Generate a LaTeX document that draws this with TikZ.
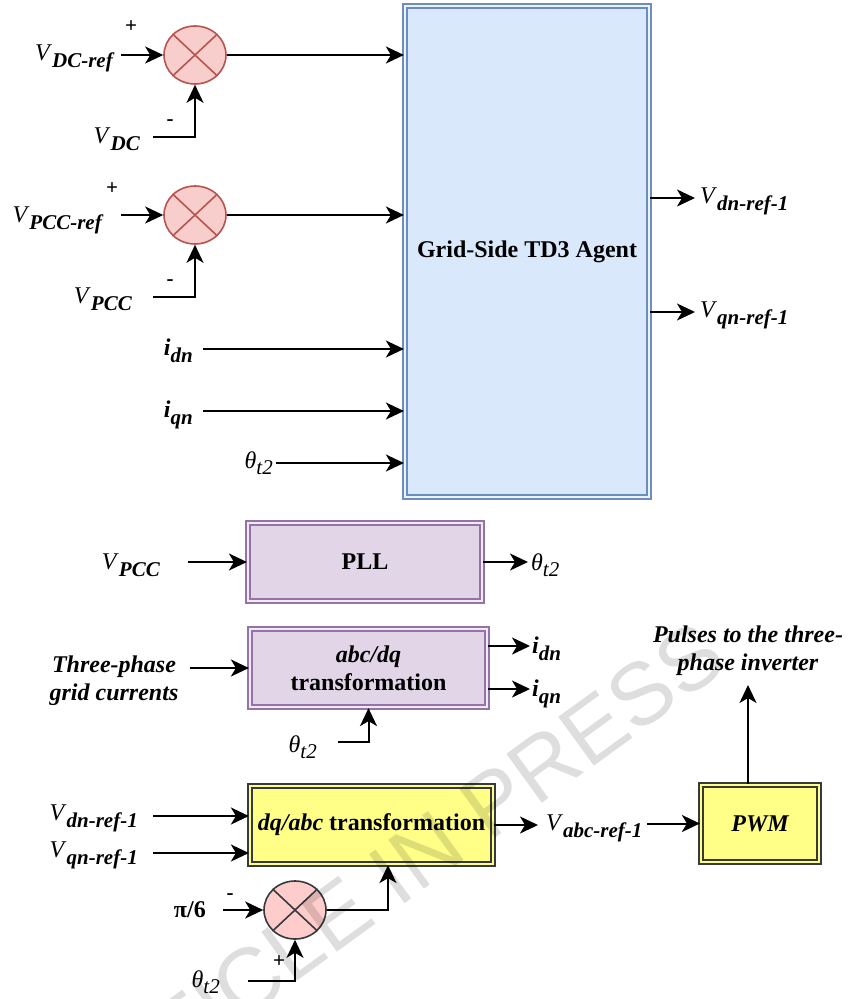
\documentclass[tikz,border=0pt]{standalone}
\usepackage{fontspec}
\setmainfont{Liberation Serif}
\newfontfamily\wmfont{Liberation Sans}
\usetikzlibrary{arrows.meta,shapes.geometric}

\definecolor{bluefill}{HTML}{DAE8FC}
\definecolor{bluedraw}{HTML}{6C8EBF}
\definecolor{purpfill}{HTML}{E1D5E7}
\definecolor{purpdraw}{HTML}{9673A6}
\definecolor{yelfill}{HTML}{FFFF88}
\definecolor{darkdraw}{HTML}{36393D}
\definecolor{redfill}{HTML}{F8CECC}
\definecolor{reddraw}{HTML}{B85450}
\definecolor{pinkfill}{HTML}{FFCCCC}

\newcommand{\sv}[2]{\textit{#1}\raisebox{-7pt}{\fontsize{21}{21}\selectfont\bfseries\itshape #2}}
\newcommand{\sth}{\textit{θ}\raisebox{-6pt}{\fontsize{21}{21}\selectfont\itshape t2}}
\newcommand{\si}[1]{\textbf{\textit{i}}\raisebox{-7pt}{\fontsize{21}{21}\selectfont\bfseries\itshape #1}}

\begin{document}
\begin{tikzpicture}[x=1pt,y=-1pt,
  font=\fontsize{24}{28}\selectfont,
  conn/.style={line width=2pt,-{Stealth[length=18pt,width=17pt,inset=5pt]}},
  lab/.style={inner sep=0pt},
  sign/.style={inner sep=0pt,font=\fontsize{21}{21}\selectfont\bfseries},
  sumred/.style={ellipse,minimum width=62pt,minimum height=58pt,inner sep=0pt,
    line width=1.6pt,draw=reddraw,fill=redfill},
  sumdark/.style={ellipse,minimum width=62pt,minimum height=58pt,inner sep=0pt,
    line width=1.6pt,draw=darkdraw,fill=pinkfill},
  blk/.style={rectangle,inner sep=0pt,line width=1.8pt,double distance=2pt,align=center,
    font=\fontsize{24}{28}\selectfont\bfseries},
  blueblk/.style={blk,draw=bluedraw,double=bluefill!50!white,fill=bluefill},
  purpblk/.style={blk,draw=purpdraw,double=purpfill!50!white,fill=purpfill},
  yelblk/.style={blk,draw=darkdraw,double=yelfill,fill=yelfill},
]
\useasboundingbox (0,0) rectangle (849,999);

% ---------- Grid-side agent ----------
\node[blueblk,minimum width=244.4pt,minimum height=491.4pt] (agent) at (527,251.5) {Grid-Side TD3 Agent};

% summing junctions
\node[sumred] (c1) at (195,55) {};
\node[sumred] (c2) at (195,215) {};
\foreach \c in {c1,c2}{
  \draw[reddraw,line width=1.6pt] (\c.north east) -- (\c.south west) (\c.north west) -- (\c.south east);
}

% inputs to c1
\node[lab,anchor=base east] (lvdcref) at (113,60) {\sv{V}{DC-ref}};
\node[sign] (p1) at (131,27) {+};
\coordinate (s1) at (121,55);
\draw[conn] (s1) -- (c1.west);
\node[lab,anchor=base east] (lvdc) at (140,143) {\sv{V}{DC}};
\node[sign] (m1) at (170,123) {-};
\coordinate (s1b) at (153,137);
\draw[conn] (s1b) -| (c1.south);
\draw[conn] (c1.east) -- (c1.east -| agent.west);

% inputs to c2
\node[lab,anchor=base east] (lvpccref) at (102,222) {\sv{V}{PCC-ref}};
\node[sign] (p2) at (112,189) {+};
\coordinate (s2) at (121,215);
\draw[conn] (s2) -- (c2.west);
\node[lab,anchor=base east] (lvpcc) at (132,303) {\sv{V}{PCC}};
\node[sign] (m2) at (170,283) {-};
\coordinate (s2b) at (153,297);
\draw[conn] (s2b) -| (c2.south);
\draw[conn] (c2.east) -- (c2.east -| agent.west);

% other inputs
\node[lab,anchor=base east] (lidn) at (193,355) {\si{dn}};
\coordinate (s3) at (203,349);
\draw[conn] (s3) -- (s3 -| agent.west);
\node[lab,anchor=base east] (liqn) at (193,417) {\si{qn}};
\coordinate (s4) at (203,411);
\draw[conn] (s4) -- (s4 -| agent.west);
\node[lab,anchor=base east] (lth1) at (273,468) {\sth};
\coordinate (s5) at (276,463);
\draw[conn] (s5) -- (s5 -| agent.west);

% outputs
\coordinate (o1) at (695,198);
\draw[conn] (agent.east |- o1) -- (o1);
\node[lab,anchor=base west] (lvdo) at (700,203) {\sv{V}{dn-ref-1}};
\coordinate (o2) at (695,312);
\draw[conn] (agent.east |- o2) -- (o2);
\node[lab,anchor=base west] (lvqo) at (700,317) {\sv{V}{qn-ref-1}};

% ---------- PLL ----------
\node[purpblk,minimum width=234.4pt,minimum height=78.4pt] (pll) at (365,562) {PLL};
\node[lab,anchor=base east] (lvpcc2) at (160,569) {\sv{V}{PCC}};
\coordinate (sp) at (188,562);
\draw[conn] (sp) -- (pll.west);
\coordinate (op) at (528,562);
\draw[conn] (pll.east) -- (op);
\node[lab,anchor=base west] (lth2) at (531,570) {\sth};

% ---------- abc/dq ----------
\node[purpblk,minimum width=237.4pt,minimum height=78.4pt] (abc) at (368.5,668) {\textit{abc/dq}\\transformation};
\node[lab,anchor=base,align=center,font=\fontsize{24}{28}\selectfont\bfseries\itshape] (l3ph) at (114,700) {Three-phase\\grid currents};
\coordinate (sa) at (190,668);
\draw[conn] (sa) -- (abc.west);
\coordinate (oa1) at (530,646);
\draw[conn] (abc.east |- oa1) -- (oa1);
\node[lab,anchor=base west] (lidn2) at (532,653) {\si{dn}};
\coordinate (oa2) at (530,689);
\draw[conn] (abc.east |- oa2) -- (oa2);
\node[lab,anchor=base west] (liqn2) at (532,696) {\si{qn}};
\coordinate (st) at (338,742);
\draw[conn] (st) -| (abc.south);
\node[lab,anchor=base east] (lth3) at (317,752) {\sth};

% ---------- dq/abc ----------
\node[yelblk,minimum width=243.4pt,minimum height=78.4pt] (dq) at (371.5,825) {\textit{dq/abc} transformation};
\node[lab,anchor=base east] (lvd2) at (138,820) {\sv{V}{dn-ref-1}};
\coordinate (sd1) at (153,816);
\draw[conn] (sd1) -- (sd1 -| dq.west);
\node[lab,anchor=base east] (lvq2) at (138,857) {\sv{V}{qn-ref-1}};
\coordinate (sd2) at (153,853);
\draw[conn] (sd2) -- (sd2 -| dq.west);

\node[sumdark] (c3) at (295,910) {};
\draw[darkdraw,line width=1.6pt] (c3.north east) -- (c3.south west) (c3.north west) -- (c3.south east);
\node[lab,anchor=base east,font=\fontsize{24}{28}\selectfont\bfseries] (lpi) at (206,917) {π/6};
\node[sign] (m3) at (230,897) {-};
\coordinate (spi) at (223,910);
\draw[conn] (spi) -- (c3.west);
\node[lab,anchor=base east] (lth4) at (220,987) {\sth};
\node[sign] (p3) at (279,962) {+};
\coordinate (sth3) at (248,981);
\draw[conn] (sth3) -| (c3.south);
\draw[conn] (c3.east) -| ([xshift=16.5pt]dq.south);

% output of dq/abc
\coordinate (ov) at (538,825);
\draw[conn] (dq.east) -- (ov);
\node[lab,anchor=base west] (lvabc) at (546,830) {\sv{V}{abc-ref-1}};

% ---------- PWM ----------
\node[yelblk,minimum width=118.4pt,minimum height=77.4pt,font=\fontsize{24}{28}\selectfont\bfseries\itshape] (pwm) at (760,823.5) {PWM};
\coordinate (pv) at (647,823.5);
\draw[conn] (pv) -- (pwm.west);
\coordinate (pt) at (748,685);
\draw[conn] ([xshift=-12pt]pwm.north) -- (pt);
\node[lab,anchor=base,align=center,font=\fontsize{24}{28}\selectfont\bfseries\itshape] (lpulse) at (748,670) {Pulses to the three-\\phase inverter};

% ---------- watermark ----------
\node[inner sep=0pt,rotate=36,anchor=east,text=black,text opacity=0.13,
  font=\wmfont\fontsize{88}{88}\selectfont] (wm) at (713,642) {ARTICLE IN PRESS};
\end{tikzpicture}
\end{document}
